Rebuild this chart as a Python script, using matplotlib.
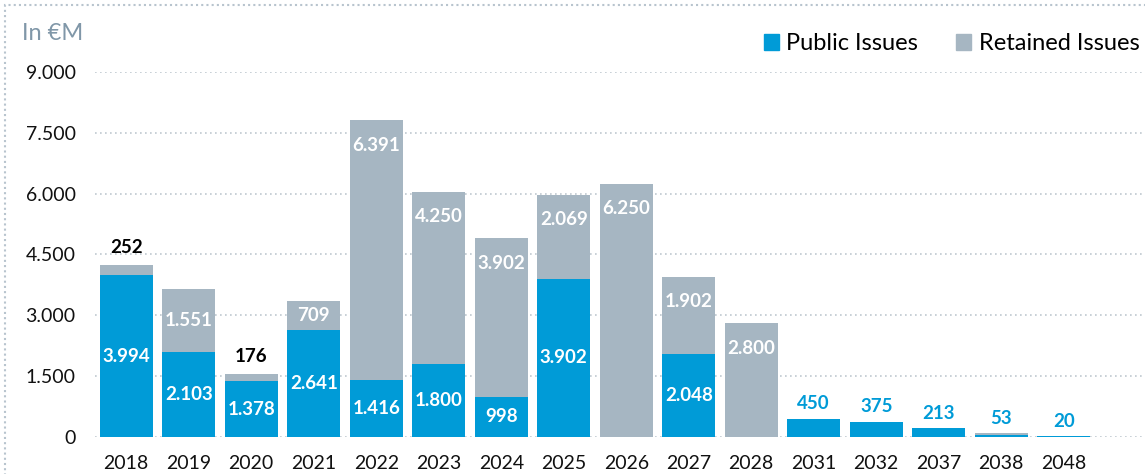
import matplotlib
matplotlib.use("Agg")
import matplotlib.pyplot as plt
from matplotlib.patches import Patch, Rectangle
from matplotlib.ticker import FuncFormatter
import numpy as np

plt.rcParams["font.family"] = ["Lato", "DejaVu Sans"]

# Daten (in €M)
years = ["2018", "2019", "2020", "2021", "2022", "2023", "2024", "2025",
         "2026", "2027", "2028", "2031", "2032", "2037", "2038", "2048"]
public = [3994, 2103, 1378, 2641, 1416, 1800, 998, 3902,
          0, 2048, 0, 450, 375, 213, 53, 20]
retained = [252, 1551, 176, 709, 6391, 4250, 3902, 2069,
            6250, 1902, 2800, 0, 0, 0, 40, 0]
retained_labelled = [True] * 14 + [False, False]

blue = "#009BD7"
grey = "#A6B6C2"
W, H = 1145, 474


def de_fmt(v):
    return f"{int(v):,}".replace(",", ".")


fig = plt.figure(figsize=(W / 100, H / 100), dpi=100)
ax = fig.add_axes([95 / W, 37 / H, 1050 / W, 365 / H])

x = np.arange(len(years))
ax.bar(x, public, width=0.85, color=blue, zorder=2)
ax.bar(x, retained, width=0.85, bottom=public, color=grey, zorder=2)

ax.set_xlim(-0.5, 16.3)
ax.set_ylim(0, 9000)
ax.set_yticks(np.arange(0, 9001, 1500))
ax.yaxis.set_major_formatter(FuncFormatter(lambda v, p: de_fmt(v)))
ax.set_xticks(x)
ax.set_xticklabels(years)
ax.tick_params(axis="both", length=0, labelsize=14, colors="#111111")
ax.tick_params(axis="x", pad=13)
ax.tick_params(axis="y", pad=14)
ax.grid(axis="y", linestyle=(0, (1, 2)), color="#BFC8D0", linewidth=1.2)
ax.set_axisbelow(True)
for s in ax.spines.values():
    s.set_visible(False)

px = 72 / 100  # ein Pixel in Punkt

# Beschriftung Public Issues
for i, v in enumerate(public):
    if v == 0:
        continue
    if v >= 900:
        ax.text(i, v / 2, de_fmt(v), ha="center", va="center", color="white",
                fontsize=13.5, fontweight="bold", zorder=3)
    else:
        top = v + retained[i]
        ax.annotate(de_fmt(v), (i, top), xytext=(0, 15 * px), textcoords="offset points",
                    ha="center", va="center", color=blue, fontsize=13.5,
                    fontweight="bold", zorder=3)

# Beschriftung Retained Issues
for i, v in enumerate(retained):
    if v == 0 or not retained_labelled[i]:
        continue
    top = public[i] + v
    if v >= 500:
        seg_px = v / 9000 * 365
        off = -25 if seg_px >= 70 else -seg_px / 2
        ax.annotate(de_fmt(v), (i, top), xytext=(0, off * px), textcoords="offset points",
                    ha="center", va="center", color="white", fontsize=13.5,
                    fontweight="bold", zorder=3)
    else:
        ax.annotate(de_fmt(v), (i, top), xytext=(0, 17 * px), textcoords="offset points",
                    ha="center", va="center", color="black", fontsize=13.5,
                    fontweight="bold", zorder=3)

fig.text(22 / W, 1 - 33 / H, "In €M", color="#8097A8", fontsize=17, va="center")

handles = [Patch(color=blue, label="Public Issues"),
           Patch(color=grey, label="Retained Issues")]
fig.legend(handles=handles, loc="center left", bbox_to_anchor=(764 / W, 1 - 44 / H),
           ncol=2, frameon=False, fontsize=17, handlelength=0.65, handleheight=0.65,
           handletextpad=0.3, columnspacing=1.6, borderpad=0, borderaxespad=0)

fig.patches.append(Rectangle((5 / W, -0.1), 1.2, 1.1 - 5 / H, transform=fig.transFigure,
                             fill=False, linestyle=(0, (1, 1.5)), edgecolor="#B8C4CE",
                             linewidth=1.5))

fig.savefig("out.png", dpi=100)
